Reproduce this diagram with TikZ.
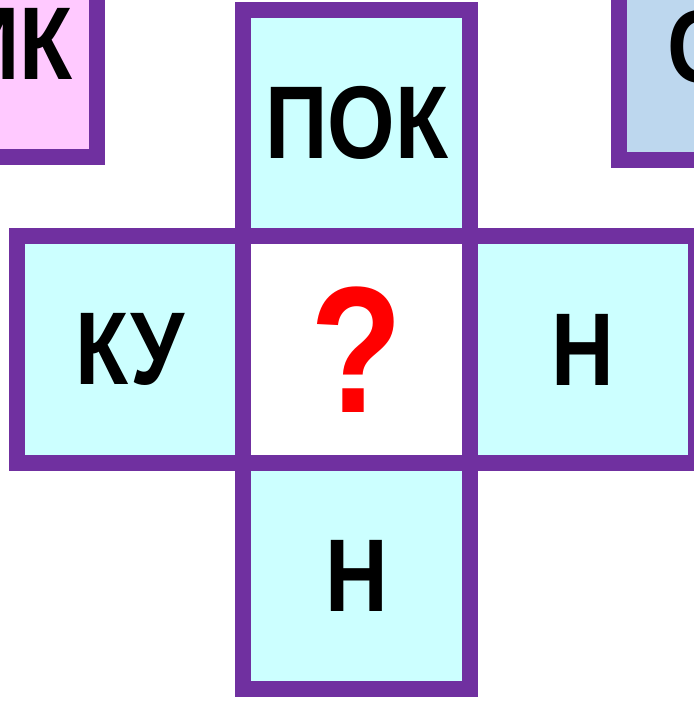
\documentclass[tikz,border=0pt]{standalone}
\usepackage{fontspec}
\setmainfont{Liberation Sans}[FakeStretch=0.84]
\usetikzlibrary{positioning}
\definecolor{frame}{HTML}{7030A0}
\definecolor{cyanfill}{HTML}{CCFFFF}
\definecolor{pinkfill}{HTML}{FFC9FF}
\definecolor{bluefill}{HTML}{BDD7EE}

\begin{document}
\begin{tikzpicture}[x=0.5pt,y=-0.5pt,
  cell/.style={draw=frame,line width=8pt,fill=cyanfill,minimum width=113.25pt,minimum height=113.25pt,inner sep=0pt,outer sep=0pt,font=\fontsize{51.7}{60}\selectfont\bfseries}]
\useasboundingbox (0,0) rectangle (694,702);
\clip (0,0) rectangle (694,702);

% corner boxes, cut by the page edge
\node[cell,fill=pinkfill] (nik) at (-16.25,43.75){НИК};
\node[cell,fill=bluefill] (on) at (732.25,46.75){ОН};

% the cross
\node[cell,fill=white,text=red,font=\fontsize{90}{100}\selectfont\bfseries] (mid) at (356.7,349.5){?};
\node[cell,above=0pt of mid] (pok){ПОК};
\node[cell,left=0pt of mid] (ku){КУ};
\node[cell,right=0pt of mid] (nright){Н};
\node[cell,below=0pt of mid] (nbottom){Н};
\end{tikzpicture}
\end{document}
